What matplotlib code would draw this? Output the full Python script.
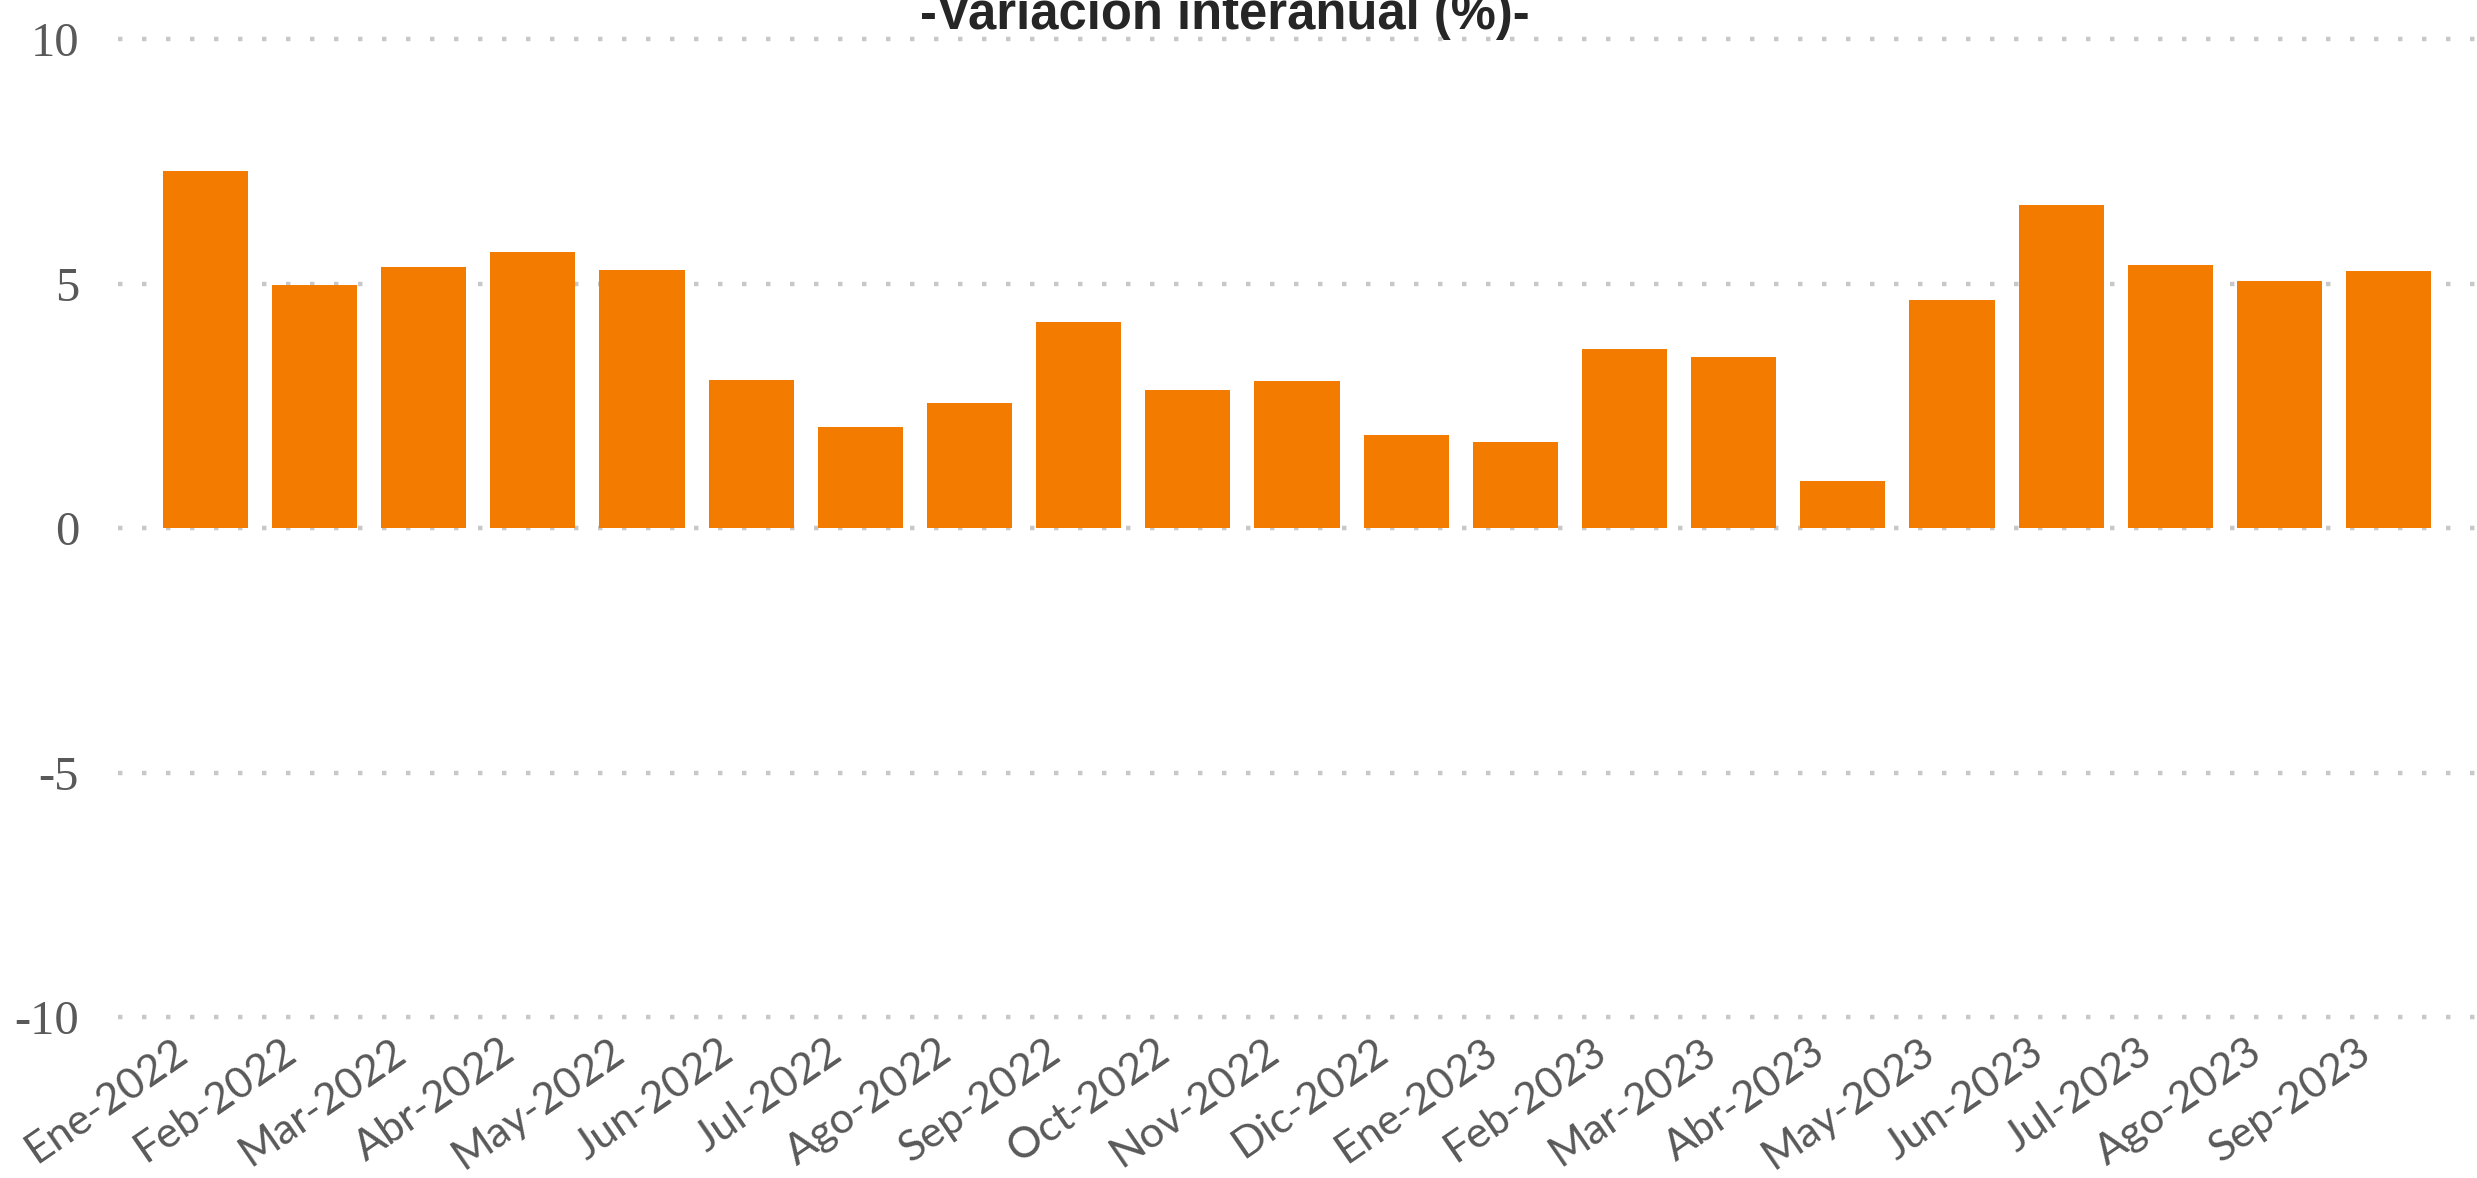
import matplotlib.pyplot as plt
from matplotlib.transforms import ScaledTranslation

meses = ['Ene-2022', 'Feb-2022', 'Mar-2022', 'Abr-2022', 'May-2022', 'Jun-2022',
         'Jul-2022', 'Ago-2022', 'Sep-2022', 'Oct-2022', 'Nov-2022', 'Dic-2022',
         'Ene-2023', 'Feb-2023', 'Mar-2023', 'Abr-2023', 'May-2023', 'Jun-2023',
         'Jul-2023', 'Ago-2023', 'Sep-2023']
variacion = [7.31, 4.98, 5.35, 5.66, 5.29, 3.04, 2.07, 2.56, 4.21, 2.83, 3.02, 1.91,
             1.77, 3.66, 3.50, 0.96, 4.67, 6.61, 5.39, 5.06, 5.27]
yticks = [-10, -5, 0, 5, 10]

fig = plt.figure(figsize=(24.77, 11.78), dpi=100)
ax = fig.add_axes([0.0476, 0.1367, 0.952, 0.8298])

x = range(len(meses))
ax.bar(x, variacion, width=0.78, color='#F37B00', zorder=2)

ax.set_xlim(-0.8, 20.8)
ax.set_ylim(-10, 10)
ax.set_yticks(yticks)
ax.set_yticklabels([str(v) for v in yticks], family='Liberation Serif',
                   fontsize=35, color='#595959')
ax.set_xticks(list(x))
ax.set_xticklabels(meses, rotation=34.5, ha='right', rotation_mode='anchor',
                   family='Lato', fontsize=31, color='#595959')
ax.tick_params(axis='both', length=0)
ax.tick_params(axis='y', pad=28)
ax.tick_params(axis='x', pad=11)

# labels sit a bit left of the bar centre
shift = ScaledTranslation(-0.33, 0, fig.dpi_scale_trans)
for lab in ax.get_xticklabels():
    lab.set_transform(lab.get_transform() + shift)

for v in yticks:
    ax.axhline(v, color='#c8c8c8', linewidth=3.2, linestyle=(0, (1, 4.4)),
               dash_capstyle='butt', zorder=1, clip_on=False)

for s in ax.spines.values():
    s.set_visible(False)

fig.text(0.4946, 0.9754, '-Variación interanual (%)-', ha='center', va='baseline',
         family='Liberation Sans', fontweight='bold', fontsize=36.5, color='#262626')

fig.savefig('out.png', dpi=100)
